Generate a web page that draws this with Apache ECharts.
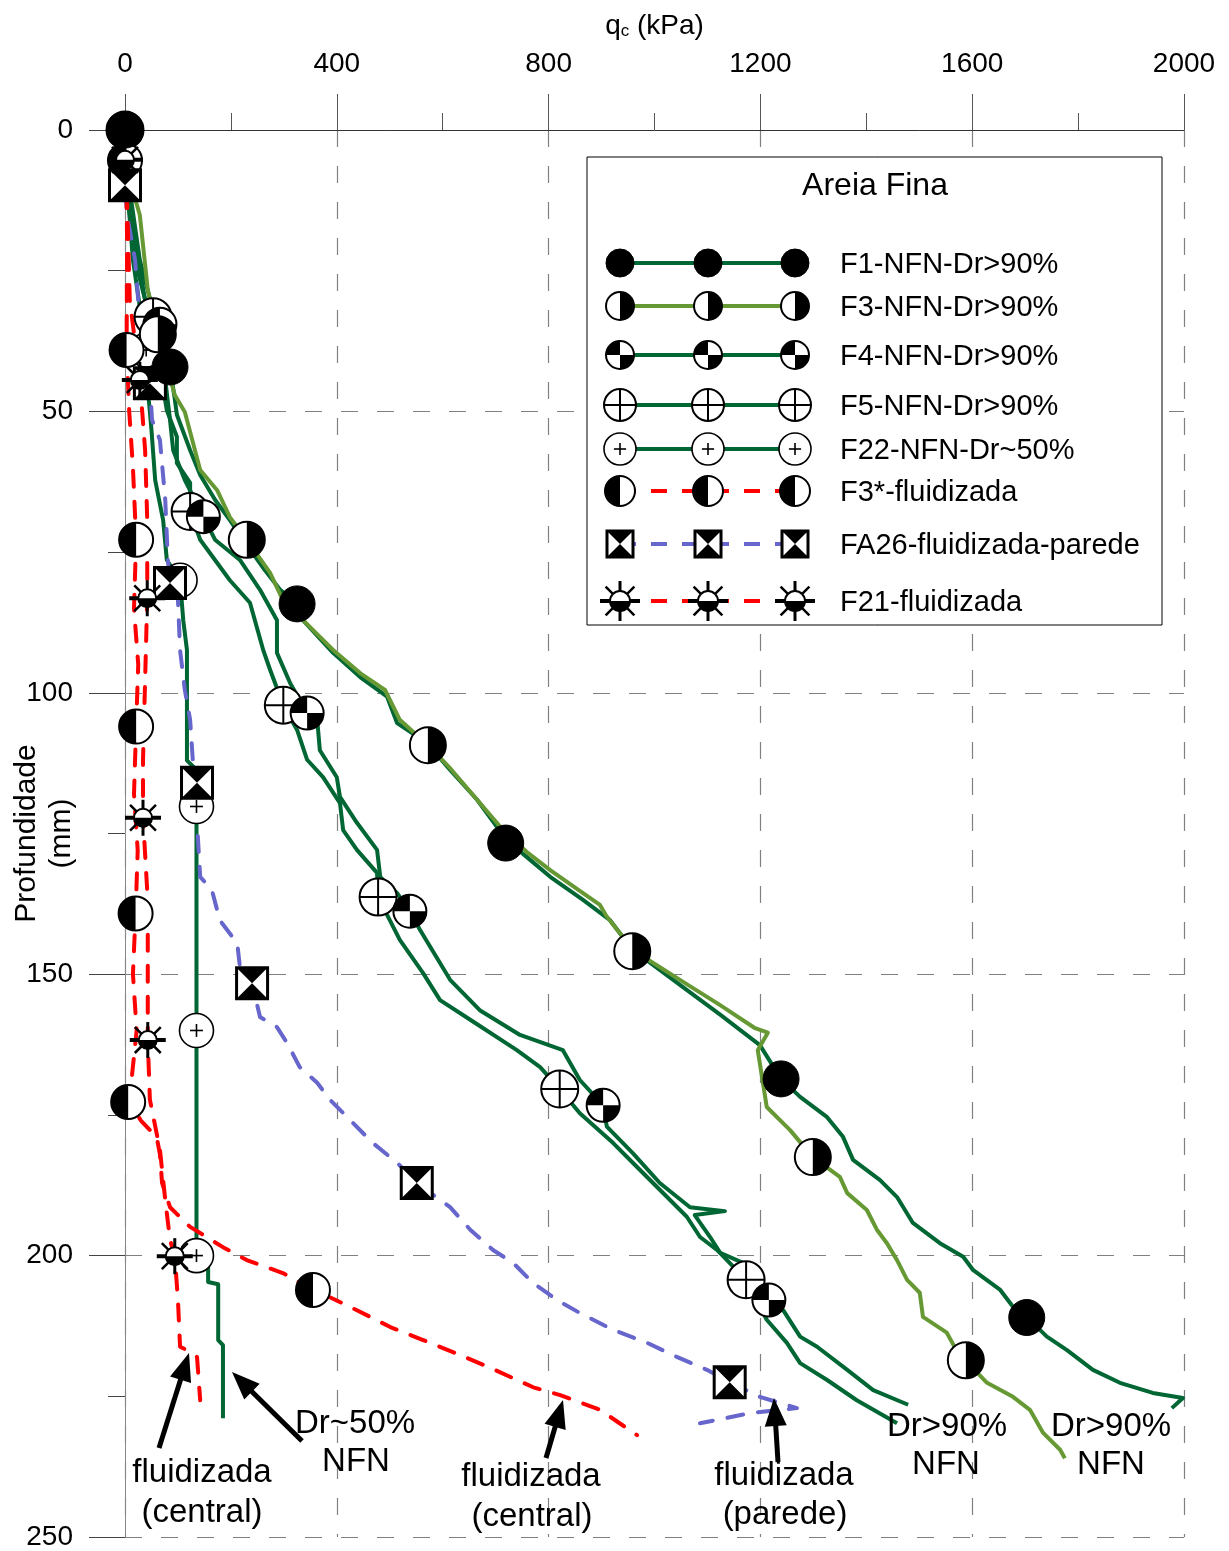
<!DOCTYPE html>
<html><head><meta charset="utf-8">
<script src="https://cdn.jsdelivr.net/npm/echarts/dist/echarts.min.js"></script>
<style>html,body{margin:0;padding:0;background:#fff}#c{width:1229px;height:1551px}</style>
</head><body><div id="c"></div>
<script>
// ---------- DATA (qc kPa, depth mm) ----------
const X_TICKS = [0, 400, 800, 1200, 1600, 2000];
const Y_TICKS = [0, 50, 100, 150, 200, 250];

const F1 = [[0,0],[4,5.3],[9,12.4],[21,21.3],[38,30.2],[66,37.3],[85,42.1],[94,47.8],[98,50.6],[123,56.9],[142,61.3],[170,65.7],[198,69.3],[230,73.7],[264,78.2],[293,81.7],[325,84.2],[336,87.1],[393,92.9],[444,97.2],[495,100.7],[514,105.4],[570,108.9],[614,113.7],[665,119],[721,126.2],[759,129.2],[803,132.7],[865,136.8],[916,140.4],[959,145.7],[1048,151.9],[1124,157.2],[1199,162.6],[1239,168.6],[1275,171.8],[1326,175.4],[1356,178.9],[1375,183],[1426,186.6],[1458,189.6],[1488,194.2],[1539,197.8],[1583,200.2],[1602,202.6],[1653,206.1],[1677,209.1],[1703,210.9],[1741,214.4],[1779,216.8],[1828,220.3],[1879,222.6],[1941,224.4],[1998,225.3],[1977,227.1]];
const F1_MK = [[0,0],[85,42.1],[325,84.2],[719,126.7],[1239,168.6],[1703,211]];

const F3 = [[0,0],[6,8],[28,15.1],[43,28.4],[62,36.3],[94,47.1],[113,50.1],[142,60.4],[174,64],[198,68.8],[230,72.8],[274,78.7],[298,83.5],[349,88.3],[393,92.4],[444,96.5],[491,99.5],[519,104.8],[572,109.3],[614,113.4],[665,119],[714,124.4],[759,128.3],[803,131.5],[865,135.6],[897,137.7],[908,139.5],[959,145.7],[1048,151],[1124,155.5],[1190,159.6],[1214,160.4],[1195,163.5],[1212,173.6],[1256,177.7],[1299,182.5],[1350,186],[1364,188.9],[1401,191.9],[1420,195.4],[1439,197.8],[1458,200.8],[1477,204.3],[1501,206.6],[1507,210.9],[1552,213.7],[1577,218],[1590,218.9],[1628,222.6],[1677,225.1],[1709,227.4],[1734,231.5],[1766,234.5],[1775,236]];
const F3_MK = [[0,0],[62,36.3],[230,72.8],[572,109.3],[958,145.9],[1299,182.5],[1588,218.6]];

const F4 = [[0,0],[9,10.7],[28,23.1],[50,31],[66,34.5],[76,44.4],[85,51.5],[91,56.9],[113,62.2],[132,65.7],[148,68.7],[170,72.8],[217,76.4],[255,81.7],[287,87.1],[287,92.9],[312,98.3],[344,103.6],[363,104.8],[368,110.2],[400,115],[406,118.5],[438,123.1],[476,127.9],[482,132.7],[514,135.6],[538,138.8],[557,142.1],[614,151],[670,156.4],[746,160.8],[827,163.5],[859,168.8],[903,173.3],[910,177.1],[959,181.8],[1010,187.1],[1067,191.4],[1133,192.1],[1076,192.8],[1105,196.7],[1124,199.5],[1167,201.3],[1216,207.9],[1243,209.7],[1275,214.4],[1307,216.2],[1364,220.3],[1413,223.9],[1479,226.5]];
const F4_MK = [[0,0],[66,34.5],[148,68.7],[344,103.6],[538,138.8],[903,173.3],[1216,207.9]];

const F5 = [[0,0],[6,12.4],[19,23.1],[38,30.2],[53,33.2],[66,42.6],[79,49.8],[98,54.5],[98,59.2],[123,62.7],[123,67.8],[142,72.8],[170,76.4],[198,80],[236,84],[261,92.4],[274,95.9],[299,102.2],[325,106.6],[344,111.9],[374,115],[406,119.6],[412,124.4],[438,127.9],[476,132],[478,136.3],[519,143.9],[563,149.8],[595,154.6],[652,158.1],[740,163.5],[784,166.5],[821,170.4],[859,174.7],[922,180],[959,183.5],[1010,188.3],[1061,193.1],[1086,196.7],[1118,199],[1173,204.3],[1212,211.4],[1250,215.5],[1275,219.1],[1326,222.1],[1382,225.7],[1458,229.8]];
const F5_MK = [[0,0],[53,33.2],[123,67.8],[299,102.2],[478,136.3],[821,170.4],[1173,204.3]];

const F22 = [[0,0],[6,12.4],[15,23.1],[40,39.1],[45,48],[50,53.3],[57,62.2],[72,69.3],[79,76.4],[104,80],[110,87.1],[117,92.4],[117,112],[135,113.7],[135,200],[157,201.4],[157,204.7],[176,205.1],[176,215],[185,215.9],[185,228.9]];
const F22_MK = [[0,0],[40,39.1],[104,80],[135,120.2],[135,160],[135,200]];

const F3S = [[0,0],[2,5.4],[4,20],[3,39.1],[8,50],[15,60],[21,72.8],[17,85],[25,95],[21,106],[17,118],[24,128],[20,139.2],[15,150],[22,160],[8,172.7],[30,176],[60,179],[66,182],[70,187.1],[85,191.4],[123,194.9],[185,198.5],[230,200.8],[298,203.1],[355,206.1],[387,207.4],[438,209.7],[501,212.7],[563,215],[626,217.4],[689,219.9],[771,223.4],[822,224.8],[897,227.4],[967,231.9]];
const F3S_MK = [[0,5.4],[3,39.1],[21,72.8],[21,106],[20,139.2],[6,172.7],[355,206.1]];

const FA26 = [[0,0],[0,9.8],[4,15.1],[19,23.1],[28,33.8],[43,39.1],[47,45],[51,51.5],[66,55.1],[76,65.7],[81,76.4],[85,80.5],[100,83.5],[104,92.4],[113,99.5],[123,104.8],[128,111.9],[136,116],[136,123.1],[142,132.7],[164,135],[179,140.4],[212,144.5],[217,148.7],[240,151.6],[255,157.6],[287,159.4],[306,162.2],[330,166.5],[363,169.3],[387,172.3],[425,175.9],[468,180],[514,183.5],[551,187.1],[614,191.4],[652,195.4],[695,199],[733,201.3],[771,204.9],[816,207.9],[859,210.2],[922,213.2],[986,215.5],[1042,218],[1099,220.3],[1142,222.5],[1199,225.1],[1269,227.1],[1180,228],[1086,229.8]];
const FA26_MK = [[0,9.8],[47,45],[85,80.5],[136,116],[240,151.6],[551,187.1],[1142,222.5]];

const F21 = [[0,0],[0,5.3],[4,12.4],[9,30.2],[28,44.4],[38,56.9],[42,69.3],[42,83.2],[38,97.7],[34,112],[34,122.2],[43,136.8],[43,147.5],[43,161.7],[47,172.3],[66,181.2],[76,190.1],[85,197.2],[94,200.1],[100,207.9],[104,216.2],[117,216.8],[136,218],[142,225.7]];
const F21_MK = [[0,5.3],[28,44.4],[42,83.2],[34,122.2],[43,161.7],[94,200.1]];

const NAMES = ['F1-NFN-Dr>90%','F3-NFN-Dr>90%','F4-NFN-Dr>90%','F5-NFN-Dr>90%','F22-NFN-Dr~50%','F3*-fluidizada','FA26-fluidizada-parede','F21-fluidizada'];

// ---------- STYLE ----------
const FF = 'Liberation Sans, Arial, sans-serif';
const DG = '#006633', LG = '#669933', RED = '#ff0000', BLUE = '#6666cc';

function markerShapes(kind, s) {
  const r = s / 2, K = '#000', W = '#fff', P = Math.PI;
  const circ = (rr, fill, lw) => ({type:'circle', shape:{cx:0, cy:0, r:rr}, style:{fill:fill, stroke:K, lineWidth:lw}});
  const sec = (rr, a0, a1) => ({type:'sector', shape:{cx:0, cy:0, r0:0, r:rr, startAngle:a0, endAngle:a1, clockwise:true}, style:{fill:K}});
  const ln = (x1, y1, x2, y2, lw) => ({type:'line', shape:{x1:x1, y1:y1, x2:x2, y2:y2}, style:{stroke:K, lineWidth:lw}});
  switch (kind) {
    case 'filled': return [circ(r, K, 1)];
    case 'halfR': return [circ(r, W, 2), sec(r, -P/2, P/2)];
    case 'halfL': return [circ(r, W, 2), sec(r, P/2, 3*P/2)];
    case 'quad': return [circ(r, W, 2), sec(r, P, 1.5*P), sec(r, 0, 0.5*P)];
    case 'cross': return [circ(r, W, 2), ln(-r, 0, r, 0, 2), ln(0, -r, 0, r, 2)];
    case 'plus': return [circ(r, W, 1.6), ln(-r*0.38, 0, r*0.38, 0, 1.6), ln(0, -r*0.38, 0, r*0.38, 1.6)];
    case 'bowtie': return [
      {type:'rect', shape:{x:-r, y:-r, width:s, height:s}, style:{fill:W, stroke:K, lineWidth:3}},
      {type:'polygon', shape:{points:[[-r,-r],[r,-r],[0,0]]}, style:{fill:K}},
      {type:'polygon', shape:{points:[[-r,r],[r,r],[0,0]]}, style:{fill:K}}];
    case 'sun': {
      const c = r * 0.5, d = r * 0.72;
      return [ln(-r, 0, r, 0, 4), ln(0, -r, 0, r, 3), ln(-d, -d, d, d, 2.5), ln(-d, d, d, -d, 2.5),
        circ(c, W, 2), sec(c, 0, P)];
    }
  }
  return [];
}

function markerSeries(data, kind, size, z) {
  return {
    type:'custom', coordinateSystem:'cartesian2d', data:data, encode:{x:0, y:1}, z:z, silent:true, clip:false,
    renderItem: function (params, api) {
      const p = api.coord([api.value(0), api.value(1)]);
      return {type:'group', x:p[0], y:p[1], children: markerShapes(kind, size)};
    }
  };
}
function lineSeries(data, color, dash, z) {
  return {type:'line', data:data, symbol:'none', showSymbol:false, silent:true, z:z, clip:false,
    lineStyle:{color:color, width:4, type: dash || 'solid', cap: dash ? 'round' : 'butt', join:'round'}};
}

// ---------- LEGEND (graphic) ----------
const legendRows = [
  {color:DG, dash:null, mk:'filled', y:263, ms:28},
  {color:LG, dash:null, mk:'halfR', y:306, ms:28},
  {color:DG, dash:null, mk:'quad', y:355, ms:28},
  {color:DG, dash:null, mk:'cross', y:405, ms:32},
  {color:DG, dash:null, mk:'plus', y:449, ms:32},
  {color:RED, dash:[16,15], mk:'halfL', y:491, ms:30},
  {color:BLUE, dash:[16,15], mk:'bowtie', y:544, ms:26},
  {color:RED, dash:[16,15], mk:'sun', y:601, ms:40}
];
function withZ(arr, z) { return arr.map(e => Object.assign({}, e, {z:z})); }
const graphics = [];
graphics.push({type:'rect', z:100, shape:{x:587, y:157, width:575, height:468}, style:{fill:'#fff', stroke:'#000', lineWidth:1}});
graphics.push({type:'text', z:101, x:875, y:186, style:{text:'Areia Fina', fontSize:32, fontFamily:FF, fill:'#000', align:'center', verticalAlign:'middle'}});
legendRows.forEach((row, i) => {
  graphics.push({type:'line', z:101, shape:{x1:620, y1:row.y, x2:795, y2:row.y}, style:{stroke:row.color, lineWidth:4, lineDash:row.dash || null}});
  [620, 708, 795].forEach(x => {
    graphics.push({type:'group', z:102, x:x, y:row.y, children: withZ(markerShapes(row.mk, row.ms), 102)});
  });
  graphics.push({type:'text', z:101, x:840, y:row.y + 2, style:{text:NAMES[i], fontSize:29, fontFamily:FF, fill:'#000', align:'left', verticalAlign:'middle'}});
});

// ---------- ANNOTATIONS ----------
const notes = [
  ['fluidizada', 202, 1473], ['(central)', 202, 1513],
  ['Dr~50%', 355, 1424], ['NFN', 356, 1462],
  ['fluidizada', 531, 1477], ['(central)', 532, 1517],
  ['fluidizada', 784, 1476], ['(parede)', 785, 1515],
  ['Dr>90%', 947, 1427], ['NFN', 946, 1465],
  ['Dr>90%', 1111, 1427], ['NFN', 1111, 1465]
];
notes.forEach(n => graphics.push({type:'text', z:90, x:n[1], y:n[2], style:{text:n[0], fontSize:33, fontFamily:FF, fill:'#000', align:'center', verticalAlign:'middle'}}));
function arrow(x1, y1, x2, y2) {
  const dx = x2 - x1, dy = y2 - y1, L = Math.hypot(dx, dy), ux = dx / L, uy = dy / L;
  const hl = 28, hw = 11;
  const bx = x2 - ux * hl, by = y2 - uy * hl;
  graphics.push({type:'line', z:90, shape:{x1:x1, y1:y1, x2:bx + ux*2, y2:by + uy*2}, style:{stroke:'#000', lineWidth:5}});
  graphics.push({type:'polygon', z:90, shape:{points:[[x2,y2],[bx - uy*hw, by + ux*hw],[bx + uy*hw, by - ux*hw]]}, style:{fill:'#000'}});
}
arrow(159, 1448, 189, 1353);
arrow(302, 1441, 232, 1372);
arrow(546, 1458, 563, 1400);
arrow(778, 1462, 774, 1398);

// ---------- CHART ----------
const chart = echarts.init(document.getElementById('c'), null, {renderer:'canvas'});
const axisFont = {fontSize:28, fontFamily:FF, color:'#000', formatter: v => String(v)};
chart.setOption({
  animation:false,
  backgroundColor:'#fff',
  grid:{left:125, top:130, width:1059, height:1407, containLabel:false, outerBoundsMode:'none'},
  xAxis:{
    type:'value', position:'top', min:X_TICKS[0], max:X_TICKS[X_TICKS.length-1], interval:X_TICKS[1]-X_TICKS[0],
    axisLine:{show:true, onZero:false, lineStyle:{color:'#333', width:1}},
    axisTick:{show:true, length:36, lineStyle:{color:'#555', width:1}},
    minorTick:{show:true, splitNumber:2, length:17, lineStyle:{color:'#555', width:1}},
    axisLabel:Object.assign({margin:52}, axisFont),
    splitLine:{show:true, lineStyle:{color:'#808080', width:1.2, type:[17,19]}},
    name:'{a|q}{b|c}{a| (kPa)}', nameLocation:'middle', nameGap:90, nameMoveOverlap:false,
    nameTextStyle:{fontSize:28, fontFamily:FF, color:'#000', rich:{a:{fontSize:28, fontFamily:FF, color:'#000', verticalAlign:'bottom', lineHeight:32}, b:{fontSize:17, fontFamily:FF, color:'#000', verticalAlign:'bottom', lineHeight:17}}}
  },
  yAxis:{
    type:'value', inverse:true, min:Y_TICKS[0], max:Y_TICKS[Y_TICKS.length-1], interval:Y_TICKS[1]-Y_TICKS[0],
    axisLine:{show:true, onZero:false, lineStyle:{color:'#888', width:1}},
    axisTick:{show:true, length:36, lineStyle:{color:'#444', width:1}},
    minorTick:{show:true, splitNumber:2, length:17, lineStyle:{color:'#444', width:1}},
    axisLabel:Object.assign({margin:52}, axisFont),
    splitLine:{show:true, lineStyle:{color:'#808080', width:1.2, type:[17,19]}},
    name:'Profundidade\n(mm)', nameLocation:'middle', nameGap:46, nameMoveOverlap:false,
    nameTextStyle:{fontSize:30, fontFamily:FF, color:'#000', lineHeight:35}
  },
  series:[
    lineSeries(F1, DG, null, 2),
    lineSeries(F4, DG, null, 2),
    lineSeries(F5, DG, null, 2),
    lineSeries(F22, DG, null, 2),
    lineSeries(F3, LG, null, 3),
    lineSeries(FA26, BLUE, [16,15], 3),
    lineSeries(F3S, RED, [16,15], 4),
    lineSeries(F21, RED, [16,15], 4),
    markerSeries(F22_MK, 'plus', 34, 10),
    markerSeries(F5_MK, 'cross', 37, 10),
    markerSeries(F4_MK, 'quad', 33, 10),
    markerSeries(F3_MK, 'halfR', 36, 10),
    markerSeries(F3S_MK, 'halfL', 34, 10),
    markerSeries(FA26_MK, 'bowtie', 31, 10),
    markerSeries(F21_MK, 'sun', 36, 10),
    markerSeries(F1_MK, 'filled', 36, 11)
  ],
  graphic: graphics
});
</script></body></html>
